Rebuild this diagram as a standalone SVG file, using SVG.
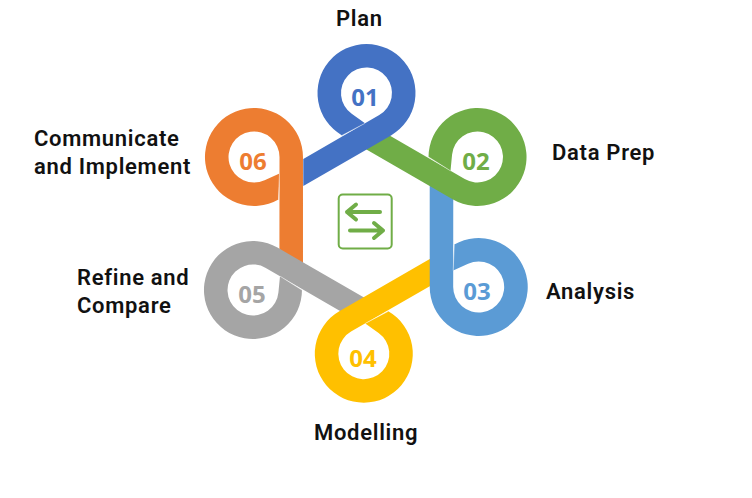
<svg xmlns="http://www.w3.org/2000/svg" xmlns:xlink="http://www.w3.org/1999/xlink" width="752" height="498" viewBox="0 0 752 498">
<style>
.num{font-family:"Open Sans","Liberation Sans",sans-serif;font-weight:700;font-size:24px;text-anchor:middle}
.lbl{font-family:Roboto,"Liberation Sans",sans-serif;font-weight:600;font-size:22px;letter-spacing:.7px;fill:#111}
.seam{fill:none;stroke:#fff;stroke-opacity:.55;stroke-width:.8}
.ic{fill:none;stroke:#70AD47;stroke-width:4;stroke-linecap:round;stroke-linejoin:round}
</style>
<defs>
<path id="loop" d="M-63.2,93 L24.5,42.4 A49,49 0 1 0 -24.5,42.4 L-1.5,30.3 L-14.8,20.8 A25.5,25.5 0 1 1 12.75,22.1 L-63.2,66 Z"/>
<path id="loopx" d="M-69,96.4 L24.5,42.4 A49,49 0 1 0 -24.5,42.4 L-1.5,30.3 L-14.8,20.8 A25.5,25.5 0 1 1 12.75,22.1 L-69,69.2 Z"/>
<path id="seam" d="M-24.5,42.4 L-1.5,30.3"/>
</defs>
<rect width="752" height="498" fill="#fff"/>
<g id="node-06"><use href="#loopx" fill="#ED7D31" transform="translate(254,157) rotate(300)"/><use href="#seam" class="seam" transform="translate(254,157) rotate(300)"/><text class="num" x="253" y="170" fill="#ED7D31">06</text><text class="lbl" x="34" y="145.500">Communicate</text><text class="lbl" x="34" y="173.500">and Implement</text></g>
<g id="node-05"><use href="#loopx" fill="#A5A5A5" transform="translate(253,290) rotate(240)"/><use href="#seam" class="seam" transform="translate(253,290) rotate(240)"/><text class="num" x="252" y="303" fill="#A5A5A5">05</text><text class="lbl" x="77" y="284.500">Refine and</text><text class="lbl" x="77" y="312.500">Compare</text></g>
<g id="node-04"><use href="#loopx" fill="#FFC000" transform="translate(363.8,353.7) rotate(180)"/><use href="#seam" class="seam" transform="translate(363.8,353.7) rotate(180)"/><text class="num" x="363" y="367" fill="#FFC000">04</text><text class="lbl" x="314" y="439.500">Modelling</text></g>
<g id="node-03"><use href="#loopx" fill="#5B9BD5" transform="translate(478.7,287) rotate(120)"/><use href="#seam" class="seam" transform="translate(478.7,287) rotate(120)"/><text class="num" x="477" y="300" fill="#5B9BD5">03</text><text class="lbl" x="546" y="298.500">Analysis</text></g>
<g id="node-02"><use href="#loopx" fill="#70AD47" transform="translate(477.5,157) rotate(60)"/><use href="#seam" class="seam" transform="translate(477.5,157) rotate(60)"/><text class="num" x="476" y="170" fill="#70AD47">02</text><text class="lbl" x="552" y="159.500">Data Prep</text></g>
<g id="node-01"><use href="#loop" fill="#4472C4" transform="translate(366.5,93)"/><use href="#seam" class="seam" transform="translate(366.5,93)"/><text class="num" x="365" y="106" fill="#4472C4">01</text><text class="lbl" x="336" y="25.500">Plan</text></g>
<g id="center-icon"><rect x="338.7" y="194.500" width="53" height="54" rx="4" fill="none" stroke="#70AD47" stroke-width="2"/><path class="ic" d="M380,212 H347 M356,204.500 L347,212 L356,219.500"/><path class="ic" d="M350,230.500 H383 M374,223 L383,230.500 L374,238"/></g>
<g id="connectors"></g>
</svg>
